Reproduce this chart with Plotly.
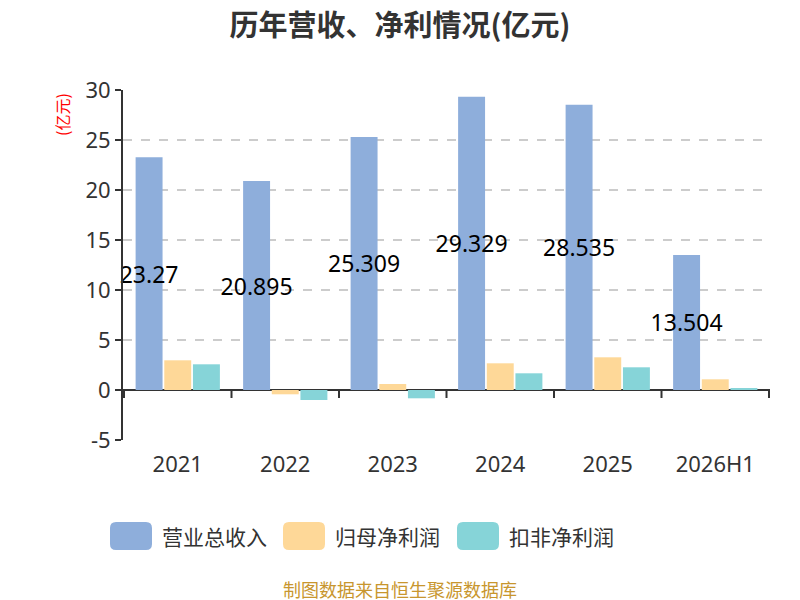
import plotly.graph_objects as go

categories = ["2021", "2022", "2023", "2024", "2025", "2026H1"]
revenue = [23.27, 20.895, 25.309, 29.329, 28.535, 13.504]
net_profit = [2.97, -0.43, 0.6, 2.67, 3.27, 1.07]
deducted_profit = [2.57, -1.0, -0.83, 1.67, 2.27, 0.15]
series_names = ["营业总收入", "归母净利润", "扣非净利润"]
colors = ["#8eaedb", "#fed898", "#86d4d8"]
y_ticks = [-5, 0, 5, 10, 15, 20, 25, 30]
y_tick_text = ["-5", "0", "5", "10", "15", "20", "25", "30"]

font_family = "Noto Sans CJK SC, Noto Sans, sans-serif"
num_font = "Noto Sans, sans-serif"

# page has an 8px body margin; work in figure coords = screen - 8
OFF = 8
PL, PR, PT, PB = 123 - OFF, 770 - OFF, 90 - OFF, 440 - OFF
W, H = 800, 600
PW, PH = PR - PL, PB - PT


def px(xs):
    return (xs - OFF - PL) / PW


def py(ys):
    return (PB - (ys - OFF)) / PH


def rounded_rect(x0, y0, x1, y1, r):
    # screen coords -> paper path with rounded corners
    pts = []
    def P(x, y):
        return f"{px(x):.5f},{py(y):.5f}"
    return (f"M {P(x0 + r, y0)} L {P(x1 - r, y0)} Q {P(x1, y0)} {P(x1, y0 + r)} "
            f"L {P(x1, y1 - r)} Q {P(x1, y1)} {P(x1 - r, y1)} "
            f"L {P(x0 + r, y1)} Q {P(x0, y1)} {P(x0, y1 - r)} "
            f"L {P(x0, y0 + r)} Q {P(x0, y0)} {P(x0 + r, y0)} Z")


fig = go.Figure()
fig.add_trace(go.Bar(
    x=categories, y=revenue, name=series_names[0], marker_color=colors[0],
    marker_line_width=0,
    text=[str(v) for v in revenue], textposition="inside", insidetextanchor="middle",
    textangle=0, constraintext="none", cliponaxis=False,
    textfont=dict(size=23, color="#000000", family=num_font),
))
fig.add_trace(go.Bar(
    x=categories, y=net_profit, name=series_names[1], marker_color=colors[1],
    marker_line_width=0,
))
fig.add_trace(go.Bar(
    x=categories, y=deducted_profit, name=series_names[2], marker_color=colors[2],
    marker_line_width=0,
))

shapes = []
for i in range(len(categories) + 1):
    shapes.append(dict(type="line", xref="x", yref="y", x0=i - 0.5, x1=i - 0.5,
                       ysizemode="pixel", yanchor=0, y0=0, y1=-8,
                       line=dict(color="#333333", width=2)))

legend_x = [110, 283, 457]
annotations = []
for i, name in enumerate(series_names):
    shapes.append(dict(type="path", xref="paper", yref="paper",
                       path=rounded_rect(legend_x[i], 522, legend_x[i] + 42, 550, 6),
                       fillcolor=colors[i], line=dict(width=0), layer="above"))
    annotations.append(dict(xref="paper", yref="paper", x=px(legend_x[i] + 50),
                            y=py(536), xanchor="left", yanchor="middle",
                            text=name, showarrow=False,
                            font=dict(size=21, color="#333333", family=font_family)))

annotations.append(dict(xref="paper", yref="paper", x=px(62), y=py(115),
                        text="(亿元)", textangle=-90, showarrow=False,
                        xanchor="center", yanchor="middle",
                        font=dict(size=16, color="#ff0000", family=font_family)))
annotations.append(dict(xref="paper", yref="paper", x=px(400), y=py(589),
                        text="制图数据来自恒生聚源数据库", showarrow=False,
                        xanchor="center", yanchor="middle",
                        font=dict(size=18, color="#c8962e", family=font_family)))

fig.update_layout(
    width=W, height=H,
    margin=dict(l=PL, r=W - PR, t=PT, b=H - PB, pad=0),
    paper_bgcolor="white", plot_bgcolor="white",
    title=dict(text="<b>历年营收、净利情况(亿元)</b>", x=(400 - OFF) / W, xanchor="center",
               y=1 - (26 - OFF) / H, yanchor="middle",
               font=dict(size=29, color="#333333", family=font_family)),
    barmode="group", bargap=0.2, bargroupgap=0.06,
    showlegend=False,
    shapes=shapes, annotations=annotations,
    font=dict(family=font_family),
    xaxis=dict(type="category", showline=False, ticks="", showgrid=False,
               tickfont=dict(size=22, color="#333333", family=num_font), ticklabelstandoff=9),
    yaxis=dict(range=[-5, 30], tickvals=y_ticks, ticktext=y_tick_text,
               showline=True, linecolor="#333333",
               linewidth=2, ticks="outside", ticklen=6, tickcolor="#333333", tickwidth=2,
               showgrid=True, gridcolor="#cccccc", griddash="dash", gridwidth=1.5,
               zeroline=True, zerolinecolor="#333333", zerolinewidth=2,
               tickfont=dict(size=22, color="#333333", family=num_font)),
)

fig.write_html("out.html")
